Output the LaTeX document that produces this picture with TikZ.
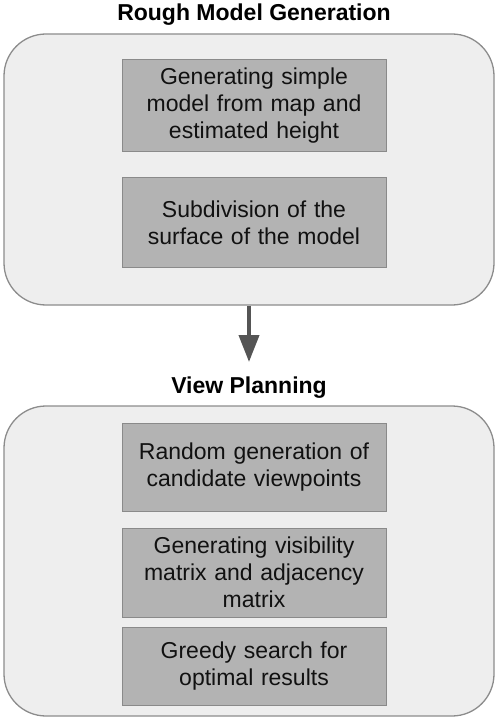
\documentclass[tikz,border=0pt]{standalone}
\usepackage{fontspec}
\setmainfont{Liberation Sans}
\usetikzlibrary{arrows.meta}
\definecolor{outerfill}{HTML}{EEEEEE}
\definecolor{outerdraw}{HTML}{8C8C8C}
\definecolor{innerfill}{HTML}{B3B3B3}
\definecolor{innerdraw}{HTML}{8A8A8A}
\definecolor{arrowcol}{HTML}{555555}
\definecolor{textcol}{HTML}{111111}
\tikzset{
  group/.style={draw=outerdraw, fill=outerfill, line width=1.3pt, rounded corners=42pt,
    minimum width=490pt, inner sep=0pt},
  stepbox/.style={draw=innerdraw, fill=innerfill, line width=1pt, minimum width=264pt,
    text width=250pt, align=center, inner sep=0pt, text=textcol,
    font=\fontsize{23}{27}\selectfont},
  grouptitle/.style={font=\fontsize{23}{27}\selectfont\bfseries, text=black, inner sep=0pt},
  flow/.style={draw=arrowcol, line width=4pt, -{Triangle[length=27pt, width=20pt]}}
}
\begin{document}
\begin{tikzpicture}[x=1pt, y=-1pt]
\useasboundingbox (0,0) rectangle (495,719);
% group 1
\node[group, minimum height=271pt] (g1) at (249,169.5) {};
\node[grouptitle] (t1) at (254,15) {Rough Model Generation};
\node[stepbox, minimum height=92pt] (s1) at (254,106) {Generating simple\\model from map and\\estimated height};
\node[stepbox, minimum height=89pt] (s2) at (254,222.5) {Subdivision of the\\surface of the model};
% group 2
\node[group, minimum height=310pt] (g2) at (249,561) {};
\node[grouptitle] (t2) at (249,388) {View Planning};
\node[stepbox, minimum height=88pt] (s3) at (254,467) {Random generation of\\candidate viewpoints};
\node[stepbox, minimum height=89pt] (s4) at (254,572.5) {Generating visibility\\matrix and adjacency\\matrix};
\node[stepbox, minimum height=78pt] (s5) at (254,666) {Greedy search for\\optimal results};
\coordinate (tip) at (249,362);
\draw[flow] (g1.south) -- (tip);
\end{tikzpicture}
\end{document}
